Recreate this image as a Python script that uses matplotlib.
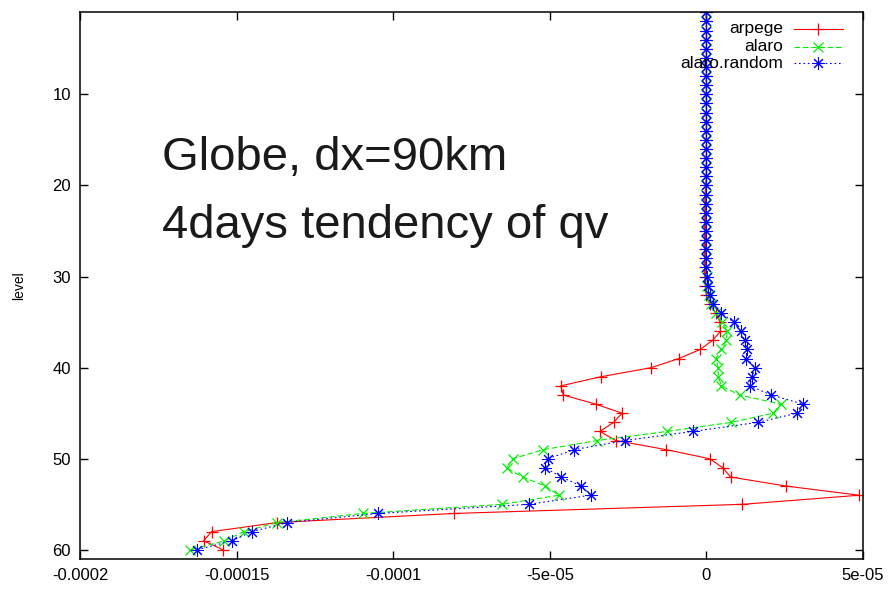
import matplotlib
matplotlib.use('Agg')
import matplotlib.pyplot as plt
import numpy as np

plt.rcParams['font.family'] = ['Liberation Sans', 'DejaVu Sans']

# model levels 1..60
levels = list(range(1, 61))

# tendencies, in units of 1e-5
arpege = [
    0.0, 0.0, 0.0, 0.0, 0.0, 0.0, 0.0, 0.0, 0.0, 0.0,
    0.0, 0.0, 0.0, 0.0, 0.0, 0.0, 0.0, 0.0, 0.0, -0.02,
    -0.04, -0.05, -0.05, -0.05, -0.06, -0.05, -0.06, -0.05, -0.06, -0.05,
    -0.03, 0.0, 0.1, 0.3, 0.43, 0.45, 0.2, -0.2, -0.88, -1.76,
    -3.37, -4.65, -4.57, -3.54, -2.69, -2.96, -3.40, -2.89, -1.28, 0.11,
    0.53, 0.77, 2.55, 4.88, 1.15, -8.05, -13.71, -15.80, -16.05, -15.43,
]
alaro = [
    0.0, 0.0, 0.0, 0.0, 0.0, 0.0, 0.0, 0.0, 0.0, 0.0,
    0.0, 0.0, 0.0, 0.0, 0.0, 0.0, 0.0, 0.0, 0.0, 0.0,
    0.0, 0.0, 0.0, 0.0, 0.0, 0.0, 0.0, 0.0, 0.0, 0.01,
    0.03, 0.08, 0.15, 0.30, 0.50, 0.66, 0.64, 0.48, 0.30, 0.38,
    0.38, 0.48, 1.06, 2.37, 2.13, 0.80, -1.26, -3.48, -5.21, -6.19,
    -6.38, -5.87, -5.14, -4.71, -6.52, -10.96, -13.71, -14.77, -15.39, -16.48,
]
alaro_random = [
    0.0, 0.0, 0.0, 0.0, 0.0, 0.0, 0.0, 0.0, 0.0, 0.0,
    0.0, 0.0, 0.0, 0.0, 0.0, 0.0, 0.0, 0.0, 0.0, 0.0,
    0.0, 0.0, 0.0, 0.0, 0.0, 0.0, 0.0, 0.0, 0.0, 0.02,
    0.05, 0.12, 0.22, 0.48, 0.87, 1.09, 1.22, 1.31, 1.28, 1.56,
    1.46, 1.38, 2.07, 3.09, 2.89, 1.65, -0.43, -2.61, -4.22, -5.07,
    -5.14, -4.63, -3.99, -3.70, -5.67, -10.48, -13.39, -14.51, -15.15, -16.28,
]
unit = 1e-5

series_names = ['arpege', 'alaro', 'alaro.random']
xticks = [-0.0002, -0.00015, -0.0001, -0.00005, 0.0, 0.00005]
xtick_labels = ['-0.0002', '-0.00015', '-0.0001', '-5e-05', '0', '5e-05']
yticks = [10, 20, 30, 40, 50, 60]

styles = [
    dict(color='#ff0000', linestyle='-', marker='+', ms=9, mew=0.9),
    dict(color='#00ee00', dashes=(5, 2.5), marker='x', ms=7, mew=0.9),
    dict(color='#0000ff', dashes=(1.5, 2.5), marker=(8, 2, 0), ms=9, mew=0.75),
]

fig = plt.figure(figsize=(8.95, 5.92), dpi=100)
ax = fig.add_axes([80 / 895, 1 - 559 / 592, 783 / 895, 546.7 / 592])

for name, vals, st in zip(series_names, [arpege, alaro, alaro_random], styles):
    ax.plot(np.array(vals) * unit, levels, lw=0.8, label=name, **st)

ax.set_xlim(-0.0002, 0.00005)
ax.set_ylim(61, 1)
ax.set_xticks(xticks)
ax.set_xticklabels(xtick_labels)
ax.set_yticks(yticks)
ax.tick_params(direction='in', top=True, right=True, length=5.8, width=1,
               labelsize=12, pad=6.5)
for sp in ax.spines.values():
    sp.set_linewidth(1.1)
ax.set_ylabel('level', fontsize=10, labelpad=19)

# gnuplot-style key: right aligned text, sample to the right
key_rows = [0.9695, 0.937, 0.907]
for name, st, yk in zip(series_names, styles, key_rows):
    ax.text(0.898, yk, name, transform=ax.transAxes, ha='right', va='center',
            fontsize=12.5)
    line_st = {k: v for k, v in st.items() if k not in ('marker', 'ms', 'mew')}
    ax.plot([0.912, 0.9745], [yk, yk], transform=ax.transAxes, lw=0.8,
            clip_on=False, **line_st)
    ax.plot([0.943], [yk], transform=ax.transAxes, linestyle='none',
            color=st['color'], marker=st['marker'], ms=st['ms'], mew=st['mew'],
            clip_on=False)

fig.text(162 / 895, 1 - 170 / 592, 'Globe, dx=90km', fontsize=34,
         color='#1a1a1a', va='baseline')
fig.text(162 / 895, 1 - 238 / 592, '4days tendency of qv', fontsize=34,
         color='#1a1a1a', va='baseline')

fig.savefig('out.png', dpi=100)
